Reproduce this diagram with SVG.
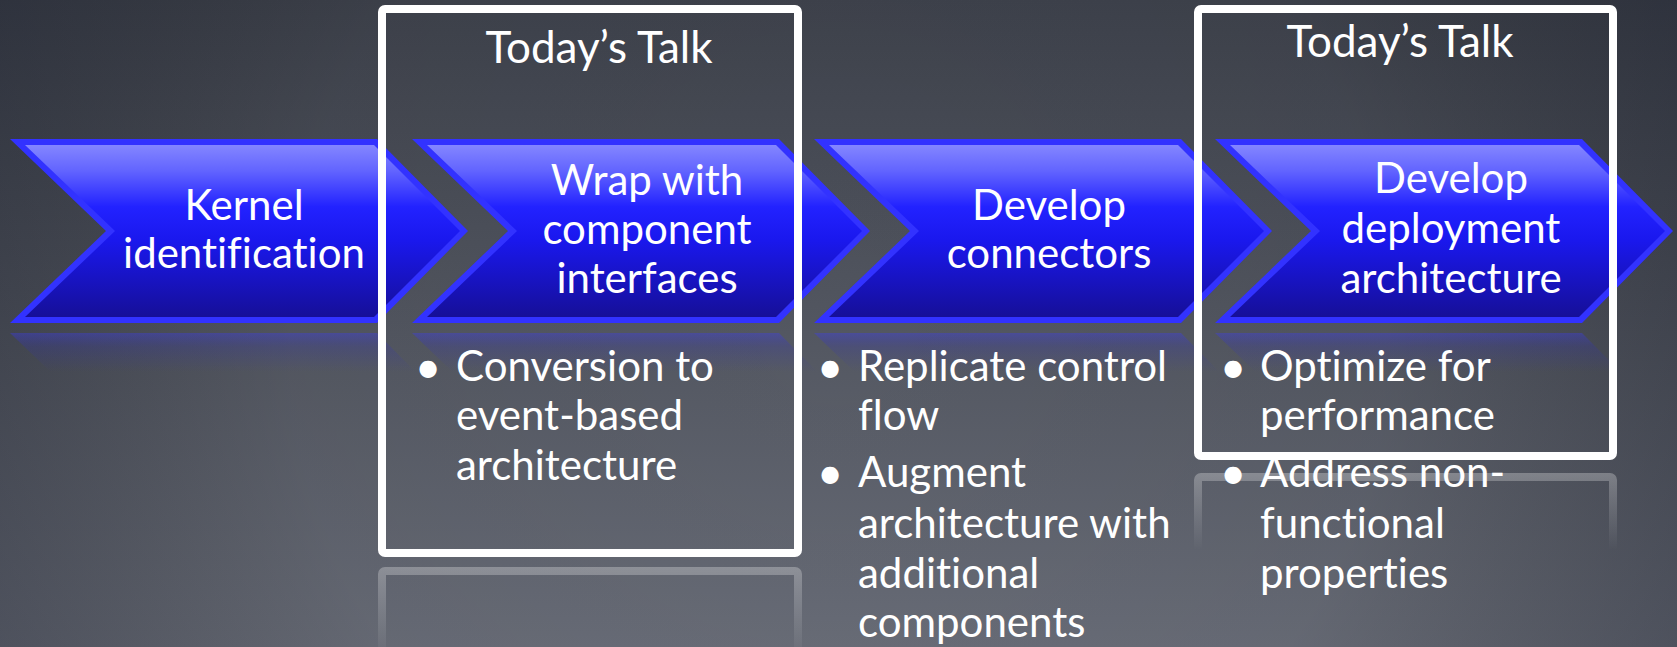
<svg xmlns="http://www.w3.org/2000/svg" width="1677" height="647" viewBox="0 0 1677 647">
  <defs>
    <linearGradient id="bgv" x1="0" y1="0" x2="0" y2="647" gradientUnits="userSpaceOnUse">
      <stop offset="0" stop-color="#3e424c"/>
      <stop offset="0.45" stop-color="#50545e"/>
      <stop offset="1" stop-color="#696d78"/>
    </linearGradient>
    <radialGradient id="vig" cx="838" cy="330" r="1000" gradientUnits="userSpaceOnUse">
      <stop offset="0" stop-color="#000" stop-opacity="0"/>
      <stop offset="0.55" stop-color="#000" stop-opacity="0.04"/>
      <stop offset="1" stop-color="#0a0f20" stop-opacity="0.35"/>
    </radialGradient>
    <linearGradient id="chevFill" x1="0" y1="145" x2="0" y2="317" gradientUnits="userSpaceOnUse">
      <stop offset="0" stop-color="#8486ff"/>
      <stop offset="0.15" stop-color="#6264ff"/>
      <stop offset="0.36" stop-color="#2222ff"/>
      <stop offset="0.55" stop-color="#1a18ee"/>
      <stop offset="1" stop-color="#160f98"/>
    </linearGradient>
    <linearGradient id="reflFill" x1="0" y1="333" x2="0" y2="372" gradientUnits="userSpaceOnUse">
      <stop offset="0" stop-color="#3a3aff" stop-opacity="0.35"/>
      <stop offset="0.35" stop-color="#2a2ad0" stop-opacity="0.18"/>
      <stop offset="1" stop-color="#2a2ad0" stop-opacity="0"/>
    </linearGradient>
    <linearGradient id="boxRefl1" x1="0" y1="567" x2="0" y2="647" gradientUnits="userSpaceOnUse">
      <stop offset="0" stop-color="#ffffff" stop-opacity="0.28"/>
      <stop offset="1" stop-color="#ffffff" stop-opacity="0.04"/>
    </linearGradient>
    <linearGradient id="boxRefl2" x1="0" y1="473" x2="0" y2="550" gradientUnits="userSpaceOnUse">
      <stop offset="0" stop-color="#ffffff" stop-opacity="0.28"/>
      <stop offset="1" stop-color="#ffffff" stop-opacity="0"/>
    </linearGradient>
    <path id="chevOuter" d="M0,139 L367,139 L458,231 L367,323 L0,323 L96,231 Z"/>
    <path id="chevInner" d="M15,145 L364,145 L450,231 L364,317 L15,317 L105,231 Z"/>
    <path id="chevRefl" d="M0,333 L367,333 L458,425 L367,517 L0,517 L96,425 Z"/>
  </defs>
  <style>
    .outer { fill: #3232ff; }
    .inner { fill: url(#chevFill); }
    .refl { fill: url(#reflFill); }
    text { font-family: Lato, "Liberation Sans", sans-serif; font-weight: 400; fill: #ffffff; font-variant-ligatures: none; }
    .lbl { font-size: 42px; text-anchor: middle; }
    .ttl { font-size: 44px; text-anchor: middle; }
    .bul { font-size: 42px; }
    .dot { font-size: 46px; text-anchor: middle; }
    .box { fill: none; stroke: #ffffff; stroke-width: 8; }
  </style>

  <rect x="0" y="0" width="1677" height="647" fill="url(#bgv)"/>
  <rect x="0" y="0" width="1677" height="647" fill="url(#vig)"/>

  <g id="reflections">
    <use href="#chevRefl" class="refl" x="10"/>
    <use href="#chevRefl" class="refl" x="412"/>
    <use href="#chevRefl" class="refl" x="814"/>
    <use href="#chevRefl" class="refl" x="1215"/>
    <rect x="382" y="571" width="416" height="120" rx="3" fill="none" stroke="url(#boxRefl1)" stroke-width="8"/>
    <rect x="1198" y="477" width="415" height="120" rx="3" fill="none" stroke="url(#boxRefl2)" stroke-width="8"/>
  </g>

  <g id="step1">
    <use href="#chevOuter" class="outer" x="10"/>
    <use href="#chevInner" class="inner" x="10"/>
    <text class="lbl" x="244" y="220">Kernel</text>
    <text class="lbl" x="244" y="268">identification</text>
  </g>
  <g id="step2">
    <use href="#chevOuter" class="outer" x="412"/>
    <use href="#chevInner" class="inner" x="412"/>
    <text class="lbl" x="647" y="195">Wrap with</text>
    <text class="lbl" x="647" y="244">component</text>
    <text class="lbl" x="647" y="293">interfaces</text>
  </g>
  <g id="step3">
    <use href="#chevOuter" class="outer" x="814"/>
    <use href="#chevInner" class="inner" x="814"/>
    <text class="lbl" x="1049" y="220">Develop</text>
    <text class="lbl" x="1049" y="268">connectors</text>
  </g>
  <g id="step4">
    <use href="#chevOuter" class="outer" x="1215"/>
    <use href="#chevInner" class="inner" x="1215"/>
    <text class="lbl" x="1451" y="193">Develop</text>
    <text class="lbl" x="1451" y="243">deployment</text>
    <text class="lbl" x="1451" y="293">architecture</text>
  </g>

  <g id="bullets2">
    <text class="dot" x="428" y="383">•</text>
    <text class="bul" x="456" y="381">Conversion to</text>
    <text class="bul" x="456" y="430">event-based</text>
    <text class="bul" x="456" y="480">architecture</text>
  </g>
  <g id="bullets3">
    <text class="dot" x="830" y="383">•</text>
    <text class="bul" x="858" y="381">Replicate control</text>
    <text class="bul" x="858" y="430">flow</text>
    <text class="dot" x="830" y="489">•</text>
    <text class="bul" x="858" y="487">Augment</text>
    <text class="bul" x="858" y="538">architecture with</text>
    <text class="bul" x="858" y="588">additional</text>
    <text class="bul" x="858" y="637">components</text>
  </g>
  <g id="bullets4">
    <text class="dot" x="1233" y="383">•</text>
    <text class="bul" x="1260" y="381">Optimize for</text>
    <text class="bul" x="1260" y="430">performance</text>
    <text class="dot" x="1233" y="489">•</text>
    <text class="bul" x="1260" y="487">Address non-</text>
    <text class="bul" x="1260" y="538">functional</text>
    <text class="bul" x="1260" y="588">properties</text>
  </g>

  <g id="talk1">
    <rect class="box" x="382" y="9" width="416" height="544" rx="3"/>
    <text class="ttl" x="599" y="63">Today’s Talk</text>
  </g>
  <g id="talk2">
    <rect class="box" x="1198" y="9" width="415" height="447" rx="3"/>
    <text class="ttl" x="1400" y="57">Today’s Talk</text>
  </g>
</svg>
